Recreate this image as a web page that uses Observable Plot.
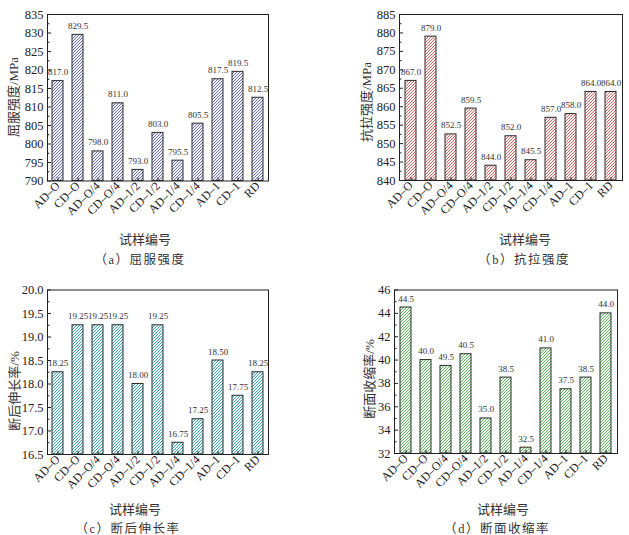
<!DOCTYPE html>
<html><head><meta charset="utf-8">
<script src="https://cdn.jsdelivr.net/npm/d3@7"></script>
<script src="https://cdn.jsdelivr.net/npm/@observablehq/plot@0.6"></script>
<style>
body{margin:0;background:#fff;}
#wrap{position:relative;width:629px;height:535px;overflow:hidden;}
.panel{position:absolute;}
.panel svg{overflow:visible;}
.lab{position:absolute;font-family:"Noto Sans CJK SC",sans-serif;color:#333;white-space:nowrap;transform:translate(-50%,-50%);}
.ylab{transform:translate(-50%,-50%) rotate(-90deg);font-size:13px;}
.xlab{font-size:13px;}
.cap{font-size:12.5px;letter-spacing:1.5px;}
.ylab span,.cap span{font-family:"Liberation Serif","Times New Roman",serif;}
</style>
</head><body>
<svg width="0" height="0" style="position:absolute">
<defs id="defs"></defs>
</svg>
<div id="wrap"></div>
<script>
const categories = ["AD–O","CD–O","AD–O/4","CD–O/4","AD–1/2","CD–1/2","AD–1/4","CD–1/4","AD–1","CD–1","RD"];
const yieldStrength = [817.0,829.5,798.0,811.0,793.0,803.0,795.5,805.5,817.5,819.5,812.5];
const tensileStrength = [867.0,879.0,852.5,859.5,844.0,852.0,845.5,857.0,858.0,864.0,864.0];
const elongation = [18.25,19.25,19.25,19.25,18.00,19.25,16.75,17.25,18.50,17.75,18.25];
const reduction = [44.5,40.0,39.5,40.5,35.0,38.5,32.5,41.0,37.5,38.5,44.0];
const reductionLabels = ["44.5","40.0","49.5","40.5","35.0","38.5","32.5","41.0","37.5","38.5","44.0"];
const yTicksA = [790,795,800,805,810,815,820,825,830,835];
const yTicksB = [840,845,850,855,860,865,870,875,880,885];
const yTicksC = [16.5,17.0,17.5,18.0,18.5,19.0,19.5,20.0];
const yTicksD = [32,34,36,38,40,42,44,46];

const panels = [
  {id:"a", left:0, top:0, width:315, height:245, ml:47, mr:47, mt:14, mb:64.5,
   values:yieldStrength, labels:yieldStrength.map(v=>v.toFixed(1)), ticks:yTicksA, minor:2.5, fmt:d=>d,
   color:"#5e5ea6", bg:"#f3f3fb", ylabel:'屈服强度<span>/MPa</span>', ylx:12, yly:97,
   xlx:145, xly:238, cap:'（<span>a</span>）屈服强度', capx:140, capy:258},
  {id:"b", left:315, top:0, width:314, height:245, ml:84, mr:7, mt:14, mb:65,
   values:tensileStrength, labels:tensileStrength.map(v=>v.toFixed(1)), ticks:yTicksB, minor:2.5, fmt:d=>d,
   color:"#d05a5a", bg:"#fdf3f3", ylabel:'抗拉强度<span>/MPa</span>', ylx:50, yly:102,
   xlx:210, xly:238, cap:'（<span>b</span>）抗拉强度', capx:209, capy:258},
  {id:"c", left:0, top:270, width:315, height:230, ml:47, mr:47, mt:19.5, mb:46,
   values:elongation, labels:elongation.map(v=>v.toFixed(2)), ticks:yTicksC, minor:0.25, fmt:d=>d.toFixed(1),
   color:"#2a9fa6", bg:"#f0fafa", ylabel:'断后伸长率<span>/%</span>', ylx:13, yly:121,
   xlx:135, xly:238, cap:'（<span>c</span>）断后伸长率', capx:128, capy:257},
  {id:"d", left:315, top:270, width:314, height:230, ml:79, mr:12, mt:19.5, mb:47,
   values:reduction, labels:reductionLabels, ticks:yTicksD, minor:1, fmt:d=>d,
   color:"#4fae4f", bg:"#f2faf2", ylabel:'断面收缩率<span>/%</span>', ylx:53, yly:109,
   xlx:188, xly:238, cap:'（<span>d</span>）断面收缩率', capx:182, capy:257}
];

const defs = d3.select("#defs");
panels.forEach(p=>{
  const pat = defs.append("pattern").attr("id","hatch-"+p.id)
    .attr("patternUnits","userSpaceOnUse").attr("width",3).attr("height",3);
  pat.append("rect").attr("width",3).attr("height",3).attr("fill",p.bg);
  pat.append("path").attr("d","M-0.75,0.75 l1.5,-1.5 M0,3 l3,-3 M2.25,3.75 l1.5,-1.5")
    .attr("stroke",p.color).attr("stroke-width",0.9).attr("fill","none");
});

const wrap = document.getElementById("wrap");
panels.forEach(p=>{
  const data = categories.map((c,i)=>({cat:c, v:p.values[i], lab:p.labels[i]}));
  const ymin = p.ticks[0], ymax = p.ticks[p.ticks.length-1];
  const minorTicks = d3.range(ymin, ymax + p.minor/2, p.minor).filter(t=>!p.ticks.some(m=>Math.abs(m-t)<1e-9));
  const chart = Plot.plot({
    width:p.width, height:p.height,
    marginLeft:p.ml, marginRight:p.mr, marginTop:p.mt, marginBottom:p.mb,
    style:{fontFamily:'"Liberation Serif","Times New Roman",serif', fontSize:"12px", color:"#222", background:"transparent", overflow:"visible"},
    x:{domain:categories, paddingInner:0.45, paddingOuter:0.225, label:null},
    y:{domain:[ymin,ymax], label:null},
    marks:[
      Plot.barY(data,{x:"cat", y1:()=>ymin, y2:"v", fill:`url(#hatch-${p.id})`, stroke:"#2a2a2a", strokeWidth:1}),
      Plot.text(data,{x:"cat", y:"v", text:"lab", dy:-6, fontSize:9, fill:"#333", lineAnchor:"bottom"}),
      Plot.axisY(p.ticks,{anchor:"left", tickSize:0, tickPadding:4, tickFormat:p.fmt, fontSize:12.5, fill:"#222"}),
      Plot.axisY(p.ticks,{anchor:"left", tickSize:-4, text:null, stroke:"#222"}),
      Plot.axisY(minorTicks,{anchor:"left", tickSize:-2.5, text:null, stroke:"#222"}),
      Plot.axisX({anchor:"bottom", tickSize:0, tickPadding:3, tickRotate:-45, fontSize:12, fill:"#222"}),
      Plot.axisX({anchor:"bottom", tickSize:-3, text:null, stroke:"#222"}),
      Plot.frame({stroke:"#222", strokeWidth:1})
    ]
  });
  const div = document.createElement("div");
  div.className = "panel";
  div.style.left = p.left+"px"; div.style.top = p.top+"px";
  div.appendChild(chart);
  wrap.appendChild(div);
  const mk = (cls, html, x, y) => {
    const e = document.createElement("div");
    e.className = "lab "+cls; e.innerHTML = html;
    e.style.left = (p.left + x)+"px"; e.style.top = (p.top + y)+"px";
    wrap.appendChild(e);
  };
  mk("ylab", p.ylabel, p.ylx, p.yly);
  mk("xlab", "试样编号", p.xlx, p.xly);
  mk("cap", p.cap, p.capx, p.capy);
});
</script>
</body></html>
